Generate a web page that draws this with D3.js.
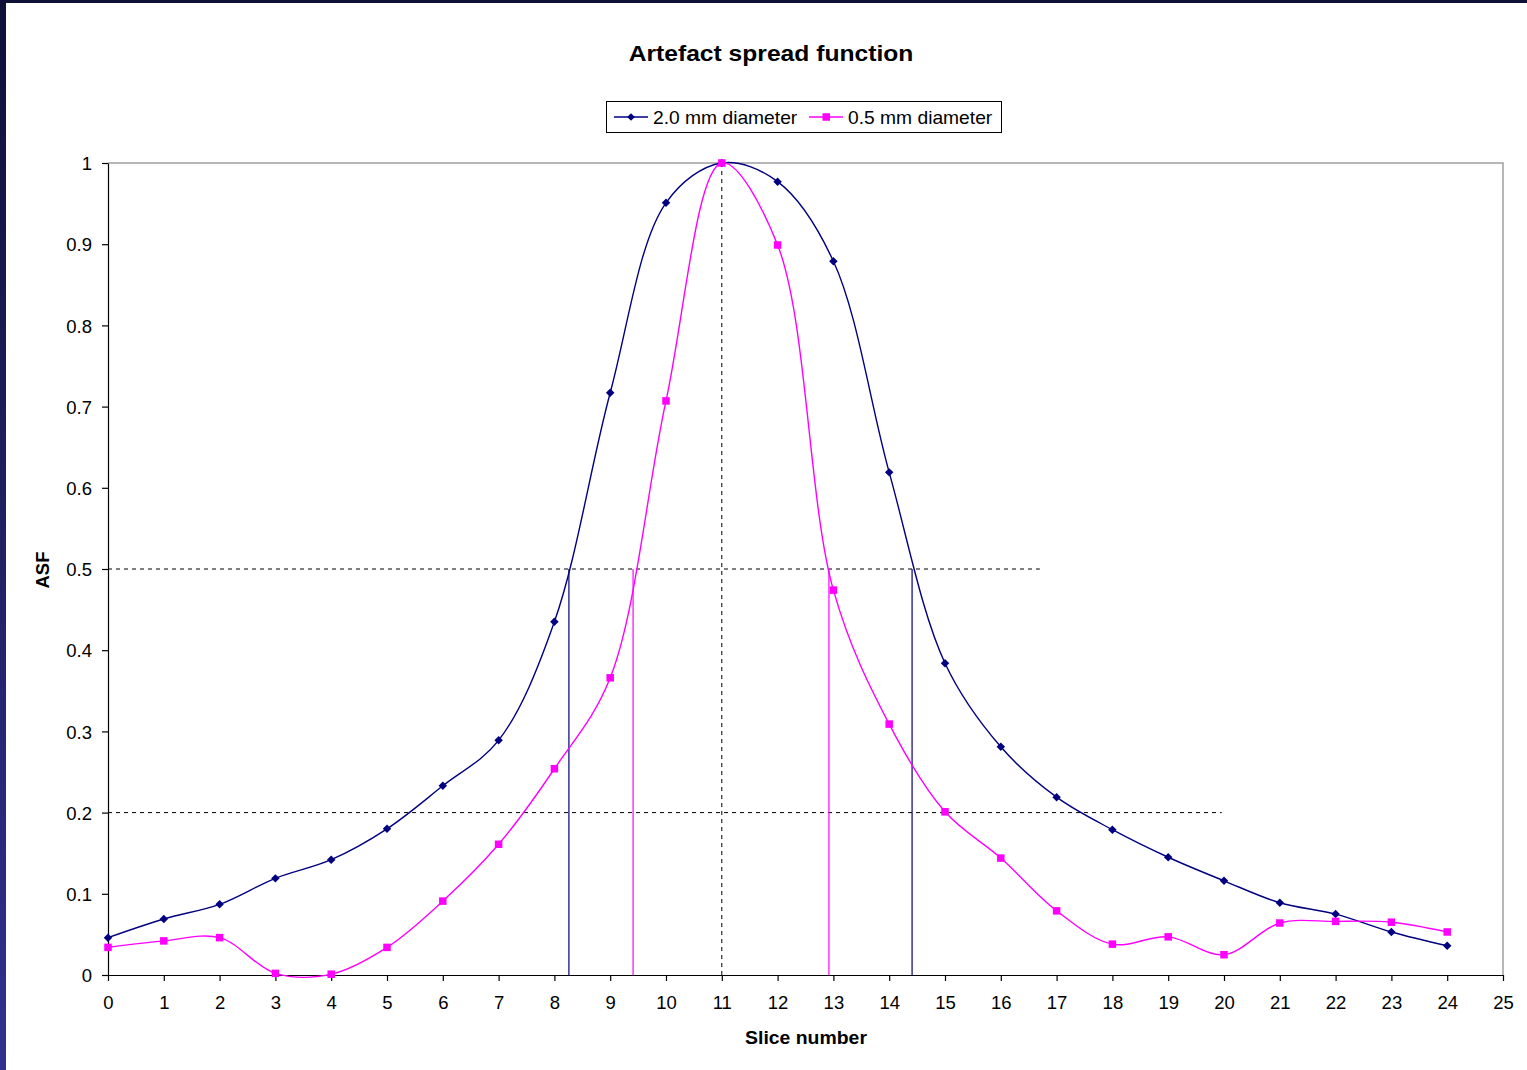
<!DOCTYPE html>
<html>
<head>
<meta charset="utf-8">
<script src="https://cdn.jsdelivr.net/npm/d3@7"></script>
<style>
  html, body { margin: 0; padding: 0; background: #ffffff; }
  svg { display: block; }
</style>
</head>
<body>
<svg id="chart" width="1527" height="1070"></svg>
<script>
// Slice numbers and measured artefact spread values
const slices = [0,1,2,3,4,5,6,7,8,9,10,11,12,13,14,15,16,17,18,19,20,21,22,23,24];
const asf2mm = [0.046,0.069,0.087,0.119,0.142,0.180,0.233,0.289,0.435,0.717,0.951,1.000,0.977,0.879,0.619,0.384,0.281,0.219,0.179,0.145,0.116,0.089,0.075,0.053,0.036];
const asf05mm = [0.034,0.042,0.046,0.002,0.001,0.034,0.091,0.161,0.254,0.366,0.707,1.000,0.899,0.474,0.309,0.201,0.144,0.079,0.038,0.047,0.025,0.064,0.066,0.065,0.053];
const seriesNames = ["2.0 mm diameter", "0.5 mm diameter"];
const xTicks = d3.range(0, 26, 1);
const yTicks = [0,0.1,0.2,0.3,0.4,0.5,0.6,0.7,0.8,0.9,1];
// Half-maximum crossings and reference levels
const fwhm2mm = [8.26, 14.41];
const fwhm05mm = [9.41, 12.92];
const halfLevelEnd = 16.7;
const fifthLevelEnd = 19.96;
const peakSlice = 11;

const svg = d3.select("#chart");
const W = 1527, H = 1070;
const font = "'Liberation Sans', Arial, sans-serif";

// Frame: dark gradient strips along the top and left edges
const defs = svg.append("defs");
const grad = defs.append("linearGradient").attr("id", "edge").attr("x1", 0).attr("y1", 0).attr("x2", 0).attr("y2", 1);
grad.append("stop").attr("offset", "0%").attr("stop-color", "#0f1036");
grad.append("stop").attr("offset", "100%").attr("stop-color", "#30318f");
svg.append("rect").attr("x", 0).attr("y", 0).attr("width", W).attr("height", 3).attr("fill", "#0f1036");
svg.append("rect").attr("x", 0).attr("y", 0).attr("width", 6).attr("height", H).attr("fill", "url(#edge)");

const plot = { left: 108, right: 1503, top: 163, bottom: 975 };
const x = d3.scaleLinear().domain([0, 25]).range([plot.left, plot.right]);
const y = d3.scaleLinear().domain([0, 1]).range([plot.bottom, plot.top]);

// Plot area outline (top and right sides)
svg.append("path")
  .attr("d", `M${plot.left},${plot.top}H${plot.right}V${plot.bottom}`)
  .attr("fill", "none").attr("stroke", "#a0a0a0").attr("stroke-width", 1.5);

// Axes
const xAxis = svg.append("g").attr("transform", `translate(0,${plot.bottom})`)
  .call(d3.axisBottom(x).tickValues(xTicks).tickFormat(d3.format("d")).tickSizeInner(6).tickSizeOuter(0).tickPadding(15));
const yAxis = svg.append("g").attr("transform", `translate(${plot.left},0)`)
  .call(d3.axisLeft(y).tickValues(yTicks).tickFormat(d => d === 0 || d === 1 ? d3.format("d")(d) : d3.format(".1f")(d)).tickSizeInner(6).tickSizeOuter(0).tickPadding(10));
[xAxis, yAxis].forEach(g => {
  g.select(".domain").attr("stroke", "#000").attr("stroke-width", 1.2);
  g.selectAll(".tick line").attr("stroke", "#000").attr("stroke-width", 1.2);
  g.selectAll(".tick text").attr("font-family", font).attr("font-size", 18.5).attr("fill", "#000");
});
yAxis.selectAll(".tick text").attr("dy", "0.36em");

// Dashed reference lines
const dash = "4,4";
svg.append("line").attr("x1", x(0)).attr("x2", x(halfLevelEnd)).attr("y1", y(0.5)).attr("y2", y(0.5))
  .attr("stroke", "#000").attr("stroke-dasharray", dash);
svg.append("line").attr("x1", x(0)).attr("x2", x(fifthLevelEnd)).attr("y1", y(0.2)).attr("y2", y(0.2))
  .attr("stroke", "#000").attr("stroke-dasharray", dash);
svg.append("line").attr("x1", x(peakSlice)).attr("x2", x(peakSlice)).attr("y1", y(1)).attr("y2", y(0))
  .attr("stroke", "#000").attr("stroke-dasharray", dash);

// Half-maximum drop lines
fwhm2mm.forEach(v => svg.append("line").attr("x1", x(v)).attr("x2", x(v)).attr("y1", y(0.5)).attr("y2", y(0))
  .attr("stroke", "#000080").attr("stroke-width", 1.2));
fwhm05mm.forEach(v => svg.append("line").attr("x1", x(v)).attr("x2", x(v)).attr("y1", y(0.5)).attr("y2", y(0))
  .attr("stroke", "#ff00ff").attr("stroke-width", 1.2));

// Smoothed series lines
const line = d3.line().x(d => x(d[0])).y(d => y(d[1])).curve(d3.curveCatmullRom.alpha(0.5));
const s2 = slices.map((s, i) => [s, asf2mm[i]]);
const s05 = slices.map((s, i) => [s, asf05mm[i]]);
svg.append("path").datum(s2).attr("d", line).attr("fill", "none").attr("stroke", "#000080").attr("stroke-width", 1.4);
svg.append("path").datum(s05).attr("d", line).attr("fill", "none").attr("stroke", "#ff00ff").attr("stroke-width", 1.4);

// Markers
const diamond = d3.symbol().type(d3.symbolSquare).size(36);
svg.append("g").selectAll("path").data(s2).join("path")
  .attr("d", diamond)
  .attr("transform", d => `translate(${x(d[0])},${y(d[1])}) rotate(45)`)
  .attr("fill", "#000080");
svg.append("g").selectAll("rect").data(s05).join("rect")
  .attr("x", d => x(d[0]) - 3.75).attr("y", d => y(d[1]) - 3.75)
  .attr("width", 7.5).attr("height", 7.5).attr("fill", "#ff00ff");

// Title and axis titles
svg.append("text").attr("transform", "translate(771,61) scale(1.12,1)").attr("text-anchor", "middle")
  .attr("font-family", font).attr("font-size", 22).attr("font-weight", "bold").text("Artefact spread function");
svg.append("text").attr("transform", "translate(806,1044) scale(1.05,1)").attr("text-anchor", "middle")
  .attr("font-family", font).attr("font-size", 18.5).attr("font-weight", "bold").text("Slice number");
svg.append("text").attr("transform", "translate(49,570) rotate(-90)").attr("text-anchor", "middle")
  .attr("font-family", font).attr("font-size", 18.5).attr("font-weight", "bold").text("ASF");

// Legend
const lg = svg.append("g");
lg.append("rect").attr("x", 606.5).attr("y", 101.5).attr("width", 395).attr("height", 31)
  .attr("fill", "#fff").attr("stroke", "#000").attr("stroke-width", 1);
const legendItems = [
  { name: seriesNames[0], color: "#000080", x0: 614, shape: "diamond" },
  { name: seriesNames[1], color: "#ff00ff", x0: 809, shape: "square" }
];
legendItems.forEach(it => {
  const cy = 117;
  lg.append("line").attr("x1", it.x0).attr("x2", it.x0 + 34).attr("y1", cy).attr("y2", cy)
    .attr("stroke", it.color).attr("stroke-width", 1.4);
  if (it.shape === "diamond") {
    lg.append("path").attr("d", d3.symbol().type(d3.symbolSquare).size(30)())
      .attr("transform", `translate(${it.x0 + 17},${cy}) rotate(45)`).attr("fill", it.color);
  } else {
    lg.append("rect").attr("x", it.x0 + 13.5).attr("y", cy - 3.75).attr("width", 7.5).attr("height", 7.5).attr("fill", it.color);
  }
  lg.append("text").attr("transform", `translate(${it.x0 + 39},${cy + 6.5}) scale(1.04,1)`)
    .attr("font-family", font).attr("font-size", 18.5).attr("fill", "#000").text(it.name);
});
</script>
</body>
</html>
